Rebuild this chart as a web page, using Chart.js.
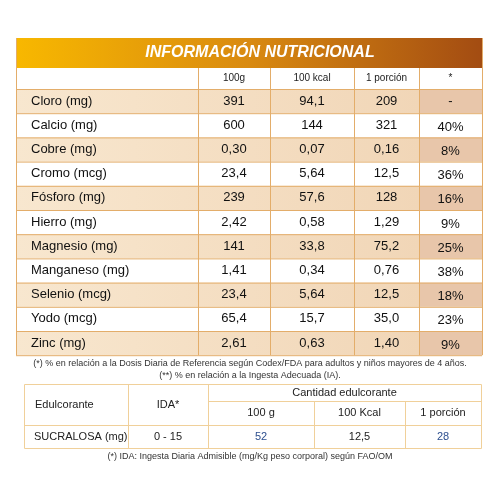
<!DOCTYPE html>
<html>
<head>
<meta charset="utf-8">
<script src="https://cdn.jsdelivr.net/npm/chart.js@4"></script>
<style>
  html, body { margin: 0; padding: 0; background: #fff; }
  #wrap { width: 500px; height: 500px; }
</style>
</head>
<body>
<div id="wrap"><canvas id="tabla"></canvas></div>
<script>
// Table data
const titulo = 'INFORMACIÓN NUTRICIONAL';
const columnas = ['100g', '100 kcal', '1 porción', '*'];
const nutrientes = ['Cloro (mg)', 'Calcio (mg)', 'Cobre (mg)', 'Cromo (mcg)', 'Fósforo (mg)', 'Hierro (mg)',
    'Magnesio (mg)', 'Manganeso (mg)', 'Selenio (mcg)', 'Yodo (mcg)', 'Zinc (mg)'];
const por100g = ['391', '600', '0,30', '23,4', '239', '2,42', '141', '1,41', '23,4', '65,4', '2,61'];
const por100kcal = ['94,1', '144', '0,07', '5,64', '57,6', '0,58', '33,8', '0,34', '5,64', '15,7', '0,63'];
const porPorcion = ['209', '321', '0,16', '12,5', '128', '1,29', '75,2', '0,76', '12,5', '35,0', '1,40'];
const porcentaje = ['-', '40%', '8%', '36%', '16%', '9%', '25%', '38%', '18%', '23%', '9%'];
const notas = [
    '(*) % en relación a la Dosis Diaria de Referencia según Codex/FDA para adultos y niños mayores de 4 años.',
    '(**) % en relación a la Ingesta Adecuada (IA).'
];
const edulColumnas = ['Edulcorante', 'IDA*', 'Cantidad edulcorante', '100 g', '100 Kcal', '1 porción'];
const edulFila = ['SUCRALOSA (mg)', '0 - 15', '52', '12,5', '28'];
const notaIda = '(*) IDA: Ingesta Diaria Admisible (mg/Kg peso corporal) según FAO/OM';

// Layout (page units 0..500)
const colX = [16, 198, 270, 354, 419, 482];
const tituloY = [38, 68];
const headY = [68, 89];
const filaH = 24.2;
const edX = [24, 128, 208, 314, 405, 481];
const edY = [384, 401, 425, 448];

const borde = '#e3ad6a';
const fuente = '"Liberation Sans", Arial, sans-serif';

const tablaPlugin = {
    id: 'tabla',
    afterDraw(chart) {
        const c = chart.ctx;
        const sx = chart.scales.x, sy = chart.scales.y;
        const X = v => sx.getPixelForValue(v);
        const Y = v => sy.getPixelForValue(v);
        c.save();

        // title bar
        const g = c.createLinearGradient(X(colX[0]), 0, X(colX[5]), 0);
        g.addColorStop(0, '#f8b800');
        g.addColorStop(0.5, '#d98a10');
        g.addColorStop(1, '#a34c12');
        c.fillStyle = g;
        c.fillRect(X(colX[0]), Y(tituloY[0]), X(colX[5]) - X(colX[0]), Y(tituloY[1]) - Y(tituloY[0]));
        c.fillStyle = '#fff';
        c.font = 'italic bold 16px ' + fuente;
        c.textAlign = 'center';
        c.textBaseline = 'middle';
        c.fillText(titulo, X(260), Y((tituloY[0] + tituloY[1]) / 2));

        // header row
        c.fillStyle = '#fff';
        c.fillRect(X(colX[0]), Y(headY[0]), X(colX[5]) - X(colX[0]), Y(headY[1]) - Y(headY[0]));
        c.fillStyle = '#222';
        c.font = '10px ' + fuente;
        columnas.forEach((t, i) => c.fillText(t, X((colX[i + 1] + colX[i + 2]) / 2), Y((headY[0] + headY[1]) / 2)));

        // body rows
        const valores = [por100g, por100kcal, porPorcion, porcentaje];
        nutrientes.forEach((n, r) => {
            const y0 = headY[1] + r * filaH, y1 = y0 + filaH;
            if (r % 2 === 0) {
                const rg = c.createLinearGradient(X(colX[0]), 0, X(colX[4]), 0);
                rg.addColorStop(0, '#f8e7cf');
                rg.addColorStop(1, '#f1d6b7');
                c.fillStyle = rg;
                c.fillRect(X(colX[0]), Y(y0), X(colX[4]) - X(colX[0]), Y(y1) - Y(y0));
                c.fillStyle = '#e8c6aa';
                c.fillRect(X(colX[4]), Y(y0), X(colX[5]) - X(colX[4]), Y(y1) - Y(y0));
            }
            c.fillStyle = '#111';
            c.font = '13px ' + fuente;
            c.textAlign = 'left';
            c.fillText(n, X(31), Y((y0 + y1) / 2));
            c.textAlign = 'center';
            valores.forEach((arr, i) => {
                const off = i === 3 && r > 0 ? 2 : 0;
                c.fillText(arr[r], X((colX[i + 1] + colX[i + 2]) / 2), Y((y0 + y1) / 2 + off));
            });
        });

        // grid lines of top table
        const yEnd = headY[1] + nutrientes.length * filaH;
        c.strokeStyle = borde;
        c.lineWidth = 1;
        c.beginPath();
        for (let r = 0; r <= nutrientes.length; r++) {
            const y = Y(headY[1] + r * filaH) + 0.5;
            c.moveTo(X(colX[0]), y); c.lineTo(X(colX[5]), y);
        }
        colX.forEach((x, i) => {
            const top = i === 0 || i === 5 ? tituloY[0] : headY[0];
            c.moveTo(X(x) + 0.5, Y(top)); c.lineTo(X(x) + 0.5, Y(yEnd));
        });
        c.stroke();

        // footnotes
        c.fillStyle = '#333';
        c.font = '9px ' + fuente;
        c.fillText(notas[0], X(250), Y(364));
        c.fillText(notas[1], X(250), Y(376));

        // sweetener table
        c.fillStyle = '#222';
        c.font = '11px ' + fuente;
        c.textAlign = 'left';
        c.fillText(edulColumnas[0], X(35), Y((edY[0] + edY[2]) / 2));
        c.fillText(edulFila[0], X(34), Y((edY[2] + edY[3]) / 2));
        c.textAlign = 'center';
        c.fillText(edulColumnas[1], X((edX[1] + edX[2]) / 2), Y((edY[0] + edY[2]) / 2));
        c.fillText(edulFila[1], X((edX[1] + edX[2]) / 2), Y((edY[2] + edY[3]) / 2));
        c.fillText(edulColumnas[2], X((edX[2] + edX[5]) / 2), Y((edY[0] + edY[1]) / 2));
        for (let i = 0; i < 3; i++) {
            const cx = X((edX[i + 2] + edX[i + 3]) / 2);
            c.fillStyle = '#222';
            c.fillText(edulColumnas[3 + i], cx, Y((edY[1] + edY[2]) / 2));
            c.fillStyle = i === 1 ? '#222' : '#2d4f8f';
            c.fillText(edulFila[2 + i], cx, Y((edY[2] + edY[3]) / 2));
        }
        c.strokeStyle = '#f0d09a';
        c.beginPath();
        c.rect(X(edX[0]) + 0.5, Y(edY[0]) + 0.5, X(edX[5]) - X(edX[0]), Y(edY[3]) - Y(edY[0]));
        c.moveTo(X(edX[2]), Y(edY[1]) + 0.5); c.lineTo(X(edX[5]), Y(edY[1]) + 0.5);
        c.moveTo(X(edX[0]), Y(edY[2]) + 0.5); c.lineTo(X(edX[5]), Y(edY[2]) + 0.5);
        c.moveTo(X(edX[1]) + 0.5, Y(edY[0])); c.lineTo(X(edX[1]) + 0.5, Y(edY[3]));
        c.moveTo(X(edX[2]) + 0.5, Y(edY[0])); c.lineTo(X(edX[2]) + 0.5, Y(edY[3]));
        c.moveTo(X(edX[3]) + 0.5, Y(edY[1])); c.lineTo(X(edX[3]) + 0.5, Y(edY[3]));
        c.moveTo(X(edX[4]) + 0.5, Y(edY[1])); c.lineTo(X(edX[4]) + 0.5, Y(edY[3]));
        c.stroke();

        c.fillStyle = '#333';
        c.font = '9px ' + fuente;
        c.fillText(notaIda, X(250), Y(457));
        c.restore();
    }
};

new Chart(document.getElementById('tabla'), {
    type: 'scatter',
    data: { datasets: [{ data: [] }] },
    options: {
        responsive: true,
        maintainAspectRatio: false,
        animation: false,
        layout: { padding: 0 },
        plugins: { legend: { display: false }, tooltip: { enabled: false } },
        scales: {
            x: { type: 'linear', min: 0, max: 500, display: false },
            y: { type: 'linear', min: 0, max: 500, reverse: true, display: false }
        }
    },
    plugins: [tablaPlugin]
});
</script>
</body>
</html>
